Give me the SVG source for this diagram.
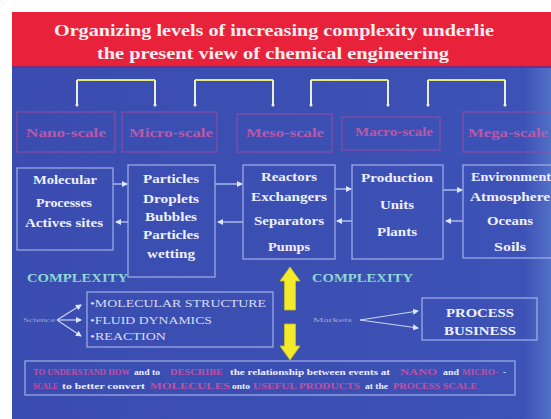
<svg xmlns="http://www.w3.org/2000/svg" width="551" height="419" viewBox="0 0 551 419">
<defs>
<linearGradient id="bg" x1="0" y1="0" x2="1" y2="0">
<stop offset="0" stop-color="#3a4cb0"/>
<stop offset="0.95" stop-color="#3d52b6"/>
<stop offset="1" stop-color="#5270c6"/>
</linearGradient>
<linearGradient id="cx" x1="0" y1="0" x2="0" y2="1">
<stop offset="0" stop-color="#a8e8f0"/>
<stop offset="1" stop-color="#70c8b0"/>
</linearGradient>
<marker id="ah" viewBox="0 0 6 6" refX="5" refY="3" markerWidth="5" markerHeight="5" orient="auto-start-reverse">
<path d="M0,0 L6,3 L0,6 z" fill="#dde6ff"/>
</marker>
</defs>
<style>
.t{font-family:"Liberation Serif",serif;font-weight:bold;}
.title{fill:#fbeef2;font-size:17px;}
.scale{fill:#bb58a8;font-size:12.5px;text-anchor:middle;}
.sbox{fill:none;stroke:#9c4c9c;stroke-width:1.2;stroke-opacity:0.8;}
.box{fill:none;stroke:#a4b0e8;stroke-width:1.2;}
.bt{fill:#eef0ff;font-size:12px;text-anchor:middle;}
.br{fill:none;stroke:#e8eed8;stroke-width:2;}
.brt{fill:none;stroke:#e6e87a;stroke-width:2;}
.cn{stroke:#c8d6f4;stroke-width:1.2;fill:none;}
.cmp{fill:url(#cx);font-size:13px;}
.lst{fill:#d6dcf8;font-size:10.5px;font-family:"Liberation Serif",serif;}
.sm{fill:#9aa6d8;font-size:7px;font-family:"Liberation Serif",serif;}
.pk{fill:#c050a4;font-family:"Liberation Serif",serif;font-weight:bold;font-size:8.5px;}
.wh{fill:#eceeff;font-family:"Liberation Serif",serif;font-weight:bold;font-size:8.5px;}
</style>
<rect x="0" y="0" width="551" height="419" fill="#ffffff"/>
<rect x="12" y="67" width="539" height="352" fill="url(#bg)"/>
<rect x="12" y="12" width="539" height="55" fill="#e8223a"/>
<rect x="12" y="66" width="539" height="2" fill="#7a2c7c"/>

<g id="title">
<text class="t title" x="274" y="36" text-anchor="middle" textLength="440" lengthAdjust="spacingAndGlyphs">Organizing levels of increasing complexity underlie</text>
<text class="t title" x="273" y="59" text-anchor="middle" textLength="352" lengthAdjust="spacingAndGlyphs">the present view of chemical engineering</text>
</g>

<g id="connectors">
<path class="br" d="M77,105 V80 M155,80 V105 M195,105 V80 M273,80 V105 M311,105 V80 M388,80 V105 M428,105 V80 M505,80 V105"/>
<path class="brt" d="M77,80 H155 M195,80 H273 M311,80 H388 M428,80 H505"/>
<g fill="#f4f4f4"><circle cx="77" cy="105" r="1.5"/><circle cx="155" cy="105" r="1.5"/><circle cx="195" cy="105" r="1.5"/><circle cx="273" cy="105" r="1.5"/><circle cx="311" cy="105" r="1.5"/><circle cx="388" cy="105" r="1.5"/><circle cx="428" cy="105" r="1.5"/><circle cx="505" cy="105" r="1.5"/></g>
<line class="cn" x1="113" y1="184" x2="127" y2="184" marker-end="url(#ah)"/>
<line class="cn" x1="116" y1="222" x2="128" y2="222" marker-start="url(#ah)"/>
<line class="cn" x1="215" y1="184" x2="242" y2="184" marker-end="url(#ah)"/>
<line class="cn" x1="218" y1="222" x2="243" y2="222" marker-start="url(#ah)"/>
<line class="cn" x1="335" y1="189" x2="351" y2="189" marker-end="url(#ah)"/>
<line class="cn" x1="337" y1="221" x2="352" y2="221" marker-start="url(#ah)"/>
<line class="cn" x1="443" y1="190" x2="462" y2="190" marker-end="url(#ah)"/>
<line class="cn" x1="446" y1="221" x2="463" y2="221" marker-start="url(#ah)"/>
<line class="cn" x1="57" y1="320" x2="81" y2="305" marker-end="url(#ah)"/>
<line class="cn" x1="57" y1="320" x2="81" y2="320" marker-end="url(#ah)"/>
<line class="cn" x1="57" y1="320" x2="81" y2="336" marker-end="url(#ah)"/>
<line class="cn" x1="360" y1="320" x2="418" y2="311" marker-end="url(#ah)"/>
<line class="cn" x1="360" y1="320" x2="418" y2="328" marker-end="url(#ah)"/>
</g>

<g id="nano-scale"><rect class="sbox" x="17" y="112" width="98" height="40"/><text class="t scale" x="66" y="137" textLength="80" lengthAdjust="spacingAndGlyphs">Nano-scale</text></g>
<g id="micro-scale"><rect class="sbox" x="122" y="112" width="95" height="40"/><text class="t scale" x="171" y="137" textLength="84" lengthAdjust="spacingAndGlyphs">Micro-scale</text></g>
<g id="meso-scale"><rect class="sbox" x="237" y="114" width="95" height="38"/><text class="t scale" x="285" y="137" textLength="78" lengthAdjust="spacingAndGlyphs">Meso-scale</text></g>
<g id="macro-scale"><rect class="sbox" x="342" y="117" width="98" height="33"/><text class="t scale" x="394" y="136" textLength="78" lengthAdjust="spacingAndGlyphs">Macro-scale</text></g>
<g id="mega-scale"><rect class="sbox" x="463" y="112" width="100" height="40"/><text class="t scale" x="508" y="137" textLength="80" lengthAdjust="spacingAndGlyphs">Mega-scale</text></g>

<g id="molecular">
<rect class="box" x="17" y="168" width="96" height="82"/>
<text class="t bt" x="65" y="184" textLength="64" lengthAdjust="spacingAndGlyphs">Molecular</text>
<text class="t bt" x="64" y="207" textLength="56" lengthAdjust="spacingAndGlyphs">Processes</text>
<text class="t bt" x="64" y="227" textLength="78" lengthAdjust="spacingAndGlyphs">Actives sites</text>
</g>
<g id="particles">
<rect class="box" x="128" y="165" width="87" height="112"/>
<text class="t bt" x="171" y="183" textLength="56" lengthAdjust="spacingAndGlyphs">Particles</text>
<text class="t bt" x="171" y="203" textLength="56" lengthAdjust="spacingAndGlyphs">Droplets</text>
<text class="t bt" x="171" y="221" textLength="52" lengthAdjust="spacingAndGlyphs">Bubbles</text>
<text class="t bt" x="171" y="239" textLength="56" lengthAdjust="spacingAndGlyphs">Particles</text>
<text class="t bt" x="171" y="258" textLength="48" lengthAdjust="spacingAndGlyphs">wetting</text>
</g>
<g id="reactors">
<rect class="box" x="243" y="165" width="92" height="94"/>
<text class="t bt" x="289" y="181" textLength="56" lengthAdjust="spacingAndGlyphs">Reactors</text>
<text class="t bt" x="289" y="201" textLength="76" lengthAdjust="spacingAndGlyphs">Exchangers</text>
<text class="t bt" x="289" y="225" textLength="70" lengthAdjust="spacingAndGlyphs">Separators</text>
<text class="t bt" x="289" y="251" textLength="42" lengthAdjust="spacingAndGlyphs">Pumps</text>
</g>
<g id="production">
<rect class="box" x="352" y="165" width="91" height="94"/>
<text class="t bt" x="397" y="182" textLength="72" lengthAdjust="spacingAndGlyphs">Production</text>
<text class="t bt" x="397" y="209" textLength="34" lengthAdjust="spacingAndGlyphs">Units</text>
<text class="t bt" x="397" y="236" textLength="40" lengthAdjust="spacingAndGlyphs">Plants</text>
</g>
<g id="environment">
<rect class="box" x="463" y="165" width="100" height="93"/>
<text class="t bt" x="511" y="181" textLength="80" lengthAdjust="spacingAndGlyphs">Environment</text>
<text class="t bt" x="510" y="201" textLength="80" lengthAdjust="spacingAndGlyphs">Atmosphere</text>
<text class="t bt" x="510" y="225" textLength="46" lengthAdjust="spacingAndGlyphs">Oceans</text>
<text class="t bt" x="510" y="251" textLength="32" lengthAdjust="spacingAndGlyphs">Soils</text>
</g>

<g id="complexity-left"><text class="t cmp" x="27" y="282" textLength="101" lengthAdjust="spacingAndGlyphs">COMPLEXITY</text></g>
<g id="complexity-right"><text class="t cmp" x="312" y="282" textLength="101" lengthAdjust="spacingAndGlyphs">COMPLEXITY</text></g>

<g id="arrow-up"><path d="M290,267 L300,281 L295.5,281 L295.5,310 L284.5,310 L284.5,281 L280,281 Z" fill="#f2ea2a" stroke="#c8c020" stroke-width="0.8"/></g>
<g id="arrow-down"><path d="M290,360 L300,346 L295.5,346 L295.5,324 L284.5,324 L284.5,346 L280,346 Z" fill="#f2ea2a" stroke="#c8c020" stroke-width="0.8"/></g>

<g id="science-label"><text class="sm" x="23" y="322" textLength="32" lengthAdjust="spacingAndGlyphs">Science</text></g>
<g id="list">
<rect class="box" x="87" y="292" width="186" height="55"/>
<text class="lst" x="90" y="307" textLength="176" lengthAdjust="spacingAndGlyphs">•MOLECULAR STRUCTURE</text>
<text class="lst" x="90" y="324" textLength="122" lengthAdjust="spacingAndGlyphs">•FLUID DYNAMICS</text>
<text class="lst" x="90" y="340" textLength="76" lengthAdjust="spacingAndGlyphs">•REACTION</text>
</g>
<g id="markets-label"><text class="sm" x="313" y="322" textLength="39" lengthAdjust="spacingAndGlyphs">Markets</text></g>
<g id="process-business">
<rect class="box" x="422" y="298" width="115" height="42"/>
<text class="t bt" x="480" y="317" textLength="68" lengthAdjust="spacingAndGlyphs">PROCESS</text>
<text class="t bt" x="480" y="335" textLength="72" lengthAdjust="spacingAndGlyphs">BUSINESS</text>
</g>

<g id="statement">
<rect class="box" x="25" y="361" width="490" height="34" stroke="#8898dc"/>
<text class="pk" x="33" y="375" textLength="97" lengthAdjust="spacingAndGlyphs">TO UNDERSTAND HOW</text>
<text class="wh" x="134" y="375" textLength="26" lengthAdjust="spacingAndGlyphs">and to</text>
<text class="pk" x="170" y="375" textLength="53" lengthAdjust="spacingAndGlyphs">DESCRIBE</text>
<text class="wh" x="230" y="375" textLength="160" lengthAdjust="spacingAndGlyphs">the relationship between events at</text>
<text class="pk" x="400" y="375" textLength="37" lengthAdjust="spacingAndGlyphs">NANO</text>
<text class="wh" x="443" y="375" textLength="16" lengthAdjust="spacingAndGlyphs">and</text>
<text class="pk" x="462" y="375" textLength="36" lengthAdjust="spacingAndGlyphs">MICRO-</text>
<text class="wh" x="503" y="375">-</text>
<text class="pk" x="33" y="389" textLength="25" lengthAdjust="spacingAndGlyphs">SCALE</text>
<text class="wh" x="62" y="389" textLength="83" lengthAdjust="spacingAndGlyphs">to better convert</text>
<text class="pk" x="150" y="389" textLength="80" lengthAdjust="spacingAndGlyphs">MOLECULES</text>
<text class="wh" x="232" y="389" textLength="18" lengthAdjust="spacingAndGlyphs">onto</text>
<text class="pk" x="253" y="389" textLength="107" lengthAdjust="spacingAndGlyphs">USEFUL PRODUCTS</text>
<text class="wh" x="365" y="389" textLength="23" lengthAdjust="spacingAndGlyphs">at the</text>
<text class="pk" x="393" y="389" textLength="84" lengthAdjust="spacingAndGlyphs">PROCESS SCALE</text>
</g>
</svg>
